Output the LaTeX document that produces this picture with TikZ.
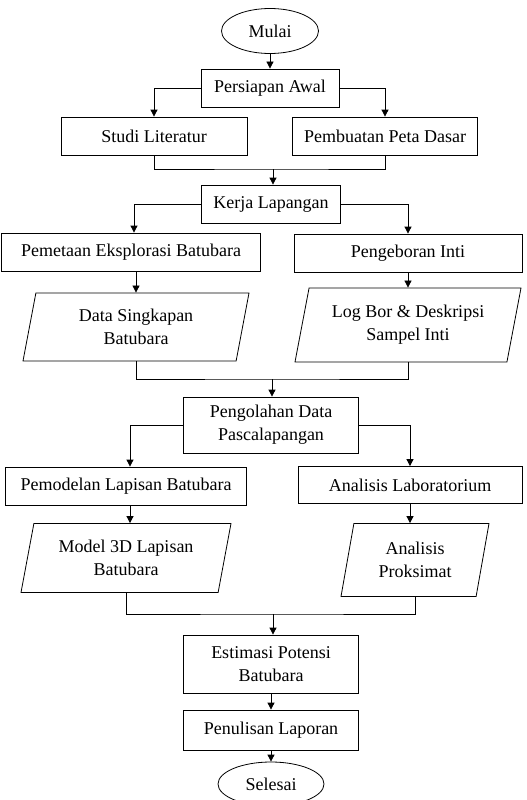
\documentclass[tikz,border=0pt]{standalone}
\usepackage{fontspec}
\setmainfont{Liberation Serif}
\usetikzlibrary{shapes.geometric,arrows.meta}

\tikzset{
  box/.style={draw, thick, rectangle, inner sep=2pt, align=center},
  io/.style={draw, thick, trapezium, trapezium left angle=72, trapezium right angle=108,
    trapezium stretches body=true, inner sep=2pt, align=center},
  term/.style={draw, thick, ellipse, inner sep=1pt},
  arr/.style={draw, thick, -{Triangle[length=7pt,width=7pt]}},
  ln/.style={draw, thick}
}

\begin{document}
\begin{tikzpicture}[x=1pt, y=-1pt, font=\fontsize{18}{23}\selectfont, line width=0.9pt]
\useasboundingbox (0,0) rectangle (527,800);
% start and preparation
\node[term, minimum width=97, minimum height=45] (mulai) at (270,31) {Mulai};
\node[box, minimum width=138, minimum height=38] (awal) at (270,88) {Persiapan Awal};
\node[box, minimum width=186, minimum height=38] (studi) at (154,136) {Studi Literatur};
\node[box, minimum width=185, minimum height=38] (peta) at (385,136) {Pembuatan Peta Dasar};
% field work
\node[box, minimum width=139, minimum height=38] (kerja) at (271,204) {Kerja Lapangan};
\node[box, minimum width=259, minimum height=38] (pemetaan) at (131,252) {Pemetaan Eksplorasi Batubara};
\node[box, minimum width=228, minimum height=38] (bor) at (408,253) {Pengeboran Inti};
\node[io, minimum width=226, minimum height=68] (singkapan) at (136,327) {Data Singkapan\\Batubara};
\node[io, minimum width=226, minimum height=74] (logbor) at (408,325) {Log Bor \& Deskripsi\\Sampel Inti};
% processing
\node[box, minimum width=175, minimum height=56] (olah) at (271,425) {Pengolahan Data\\Pascalapangan};
\node[box, minimum width=241, minimum height=38] (model) at (126,486) {Pemodelan Lapisan Batubara};
\node[box, minimum width=224, minimum height=37] (lab) at (410,485) {Analisis Laboratorium};
\node[io, minimum width=210, minimum height=69] (model3d) at (126,558) {Model 3D Lapisan\\Batubara};
\node[io, minimum width=148, minimum height=73] (proksimat) at (415,560) {Analisis\\Proksimat};
% result
\node[box, minimum width=175, minimum height=58] (estimasi) at (271,664) {Estimasi Potensi\\Batubara};
\node[box, minimum width=175, minimum height=40] (laporan) at (271,730) {Penulisan Laporan};
\node[term, minimum width=106, minimum height=44] (selesai) at (271,784) {Selesai};

\coordinate (m1) at (273,169);
\coordinate (m2) at (272,379);
\coordinate (m3) at (273,614);

\draw[arr] (mulai) -- (awal);
\draw[arr] (awal.west) -| (studi.north);
\draw[arr] (awal.east) -| (peta.north);
\draw[ln] (studi.south) |- (m1) -| (peta.south);
\draw[arr] (m1) -- (m1 |- kerja.north);

\draw[arr] (kerja.west) -| ([xshift=3pt]pemetaan.north);
\draw[arr] (kerja.east) -| (bor.north);
\draw[arr] (singkapan.north |- pemetaan.south) -- (singkapan.north);
\draw[arr] (bor.south) -- (bor.south |- logbor.north);
\draw[ln] (singkapan.south) |- (m2) -| (logbor.south);
\draw[arr] (m2) -- (m2 |- olah.north);

\draw[arr] (olah.west) -| ([xshift=4pt]model.north);
\draw[arr] (olah.east) -| (lab.north);
\draw[arr] ([xshift=4pt]model.south) -- ([xshift=4pt]model.south |- model3d.north);
\draw[arr] (lab.south) -- (lab.south |- proksimat.north);
\draw[ln] (model3d.south) |- (m3) -| (proksimat.south);
\draw[arr] (m3) -- (m3 |- estimasi.north);

\draw[arr] (estimasi) -- (laporan);
\draw[arr] (laporan) -- (selesai);
\end{tikzpicture}
\end{document}
